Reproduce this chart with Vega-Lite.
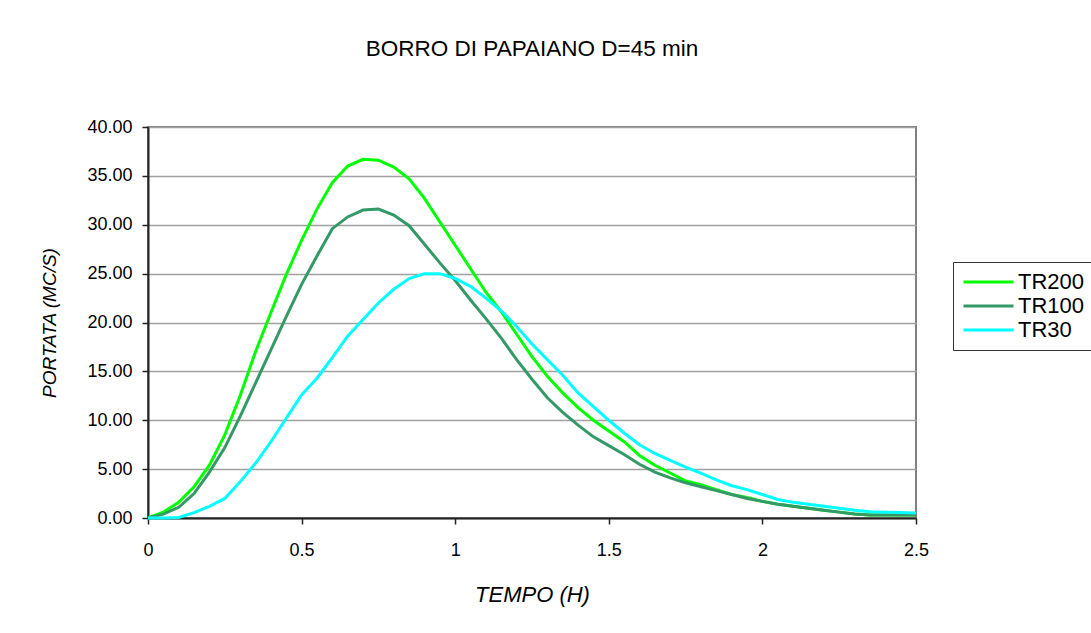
{
  "$schema": "https://vega.github.io/schema/vega-lite/v6.json",
  "autosize": "none",
  "width": 768,
  "height": 391,
  "padding": {"left": 148, "top": 127, "right": 175, "bottom": 115},
  "background": "white",
  "title": {"text": "BORRO DI PAPAIANO D=45 min", "fontSize": 22.5, "fontWeight": "normal", "font": "Liberation Sans", "color": "black", "anchor": "middle", "offset": 58},
  "config": {
    "font": "Liberation Sans",
    "view": {"stroke": "#808080", "strokeWidth": 2},
    "axis": {"labelFont": "Liberation Sans", "titleFont": "Liberation Sans", "labelColor": "black", "titleColor": "black", "domainColor": "#222222", "domainWidth": 2, "tickColor": "#222222", "tickWidth": 1.5, "tickSize": 6}
  },
  "data": {"values": [
    {"t":0,"TR200":0,"TR100":0,"TR30":0},
    {"t":0.05,"TR200":0.6,"TR100":0.4,"TR30":0},
    {"t":0.1,"TR200":1.6,"TR100":1.1,"TR30":0.05},
    {"t":0.15,"TR200":3.2,"TR100":2.5,"TR30":0.55},
    {"t":0.2,"TR200":5.4,"TR100":4.7,"TR30":1.2},
    {"t":0.25,"TR200":8.5,"TR100":7.2,"TR30":2.0},
    {"t":0.3,"TR200":12.5,"TR100":10.4,"TR30":3.7},
    {"t":0.35,"TR200":17.0,"TR100":13.8,"TR30":5.6},
    {"t":0.4,"TR200":21.0,"TR100":17.2,"TR30":7.8},
    {"t":0.45,"TR200":24.9,"TR100":20.6,"TR30":10.2},
    {"t":0.5,"TR200":28.4,"TR100":23.9,"TR30":12.6},
    {"t":0.55,"TR200":31.6,"TR100":26.8,"TR30":14.3},
    {"t":0.6,"TR200":34.3,"TR100":29.6,"TR30":16.4},
    {"t":0.65,"TR200":36.0,"TR100":30.8,"TR30":18.6},
    {"t":0.7,"TR200":36.7,"TR100":31.5,"TR30":20.3},
    {"t":0.75,"TR200":36.6,"TR100":31.6,"TR30":22.0},
    {"t":0.8,"TR200":35.9,"TR100":31.0,"TR30":23.4},
    {"t":0.85,"TR200":34.7,"TR100":29.9,"TR30":24.5},
    {"t":0.9,"TR200":32.7,"TR100":28.0,"TR30":25.0},
    {"t":0.95,"TR200":30.3,"TR100":26.1,"TR30":25.0},
    {"t":1.0,"TR200":27.9,"TR100":24.3,"TR30":24.5},
    {"t":1.05,"TR200":25.5,"TR100":22.3,"TR30":23.7},
    {"t":1.1,"TR200":23.1,"TR100":20.4,"TR30":22.5},
    {"t":1.15,"TR200":21.1,"TR100":18.4,"TR30":21.2},
    {"t":1.2,"TR200":18.8,"TR100":16.2,"TR30":19.6},
    {"t":1.25,"TR200":16.5,"TR100":14.2,"TR30":17.8},
    {"t":1.3,"TR200":14.5,"TR100":12.3,"TR30":16.2},
    {"t":1.35,"TR200":12.8,"TR100":10.8,"TR30":14.6},
    {"t":1.4,"TR200":11.3,"TR100":9.5,"TR30":12.8},
    {"t":1.45,"TR200":10.0,"TR100":8.3,"TR30":11.4},
    {"t":1.5,"TR200":8.9,"TR100":7.4,"TR30":10.0},
    {"t":1.55,"TR200":7.8,"TR100":6.5,"TR30":8.7},
    {"t":1.6,"TR200":6.4,"TR100":5.5,"TR30":7.5},
    {"t":1.65,"TR200":5.4,"TR100":4.7,"TR30":6.6},
    {"t":1.7,"TR200":4.6,"TR100":4.1,"TR30":5.9},
    {"t":1.75,"TR200":3.8,"TR100":3.6,"TR30":5.2},
    {"t":1.8,"TR200":3.4,"TR100":3.2,"TR30":4.6},
    {"t":1.85,"TR200":2.9,"TR100":2.8,"TR30":3.9},
    {"t":1.9,"TR200":2.4,"TR100":2.4,"TR30":3.3},
    {"t":1.95,"TR200":2.1,"TR100":2.0,"TR30":2.9},
    {"t":2.0,"TR200":1.7,"TR100":1.7,"TR30":2.4},
    {"t":2.05,"TR200":1.4,"TR100":1.4,"TR30":1.9},
    {"t":2.1,"TR200":1.2,"TR100":1.2,"TR30":1.6},
    {"t":2.15,"TR200":1.0,"TR100":1.0,"TR30":1.4},
    {"t":2.2,"TR200":0.8,"TR100":0.8,"TR30":1.2},
    {"t":2.25,"TR200":0.6,"TR100":0.6,"TR30":1.0},
    {"t":2.3,"TR200":0.4,"TR100":0.4,"TR30":0.8},
    {"t":2.35,"TR200":0.3,"TR100":0.3,"TR30":0.65},
    {"t":2.4,"TR200":0.3,"TR100":0.3,"TR30":0.6},
    {"t":2.45,"TR200":0.3,"TR100":0.3,"TR30":0.55},
    {"t":2.5,"TR200":0.3,"TR100":0.3,"TR30":0.5}
  ]},
  "transform": [{"fold": ["TR200", "TR100", "TR30"], "as": ["serie", "portata"]}],
  "mark": {"type": "line", "strokeWidth": 3, "clip": false},
  "encoding": {
    "x": {"field": "t", "type": "quantitative", "scale": {"domain": [0, 2.5], "nice": false, "zero": false},
      "axis": {"values": [0, 0.5, 1, 1.5, 2, 2.5], "format": "~g", "grid": false, "title": "TEMPO (H)", "titleFontStyle": "italic", "titleFontWeight": "normal", "titleFontSize": 22, "labelFontSize": 18, "labelPadding": 17, "titlePadding": 25, "labelFlush": false}},
    "y": {"field": "portata", "type": "quantitative", "scale": {"domain": [0, 40], "nice": false},
      "axis": {"values": [0, 5, 10, 15, 20, 25, 30, 35, 40], "format": ".2f", "grid": true, "gridColor": "#A0A0A0", "gridWidth": 1.5, "title": "PORTATA (MC/S)", "titleFontStyle": "italic", "titleFontWeight": "normal", "titleFontSize": 19, "labelFontSize": 18, "labelPadding": 10, "titlePadding": 27}},
    "color": {"field": "serie", "type": "nominal",
      "scale": {"domain": ["TR200", "TR100", "TR30"], "range": ["#00FF00", "#339966", "#00FFFF"]},
      "legend": {"title": null, "orient": "none", "legendX": 805, "legendY": 135, "symbolType": "M-1,0L1,0", "symbolSize": 2500, "symbolStrokeWidth": 3, "clipHeight": 22, "labelFontSize": 22, "labelFont": "Liberation Sans", "labelColor": "black", "strokeColor": "#333333", "padding": 9, "rowPadding": 2, "labelOffset": 3}}
  }
}
